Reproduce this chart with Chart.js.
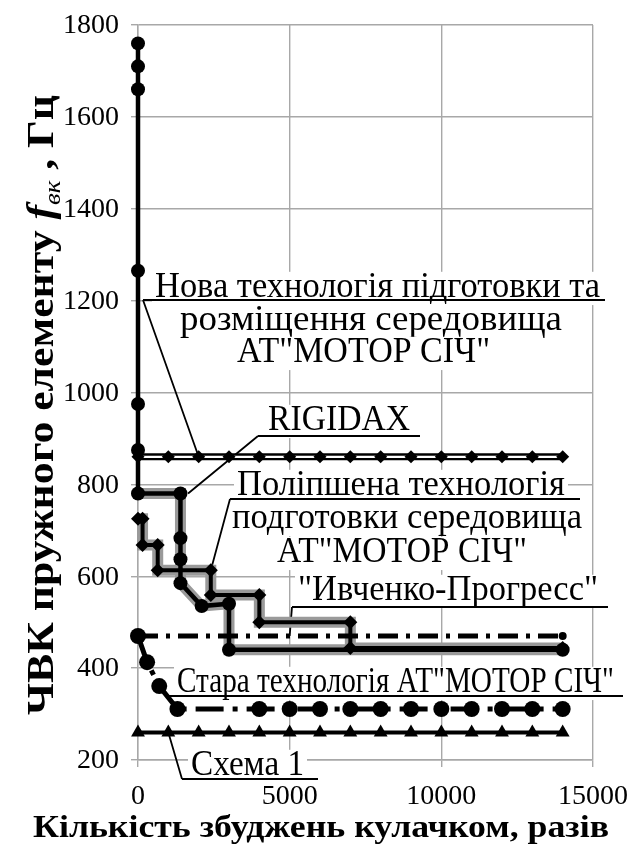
<!DOCTYPE html>
<html><head><meta charset="utf-8">
<script src="https://cdn.jsdelivr.net/npm/chart.js@4/dist/chart.umd.min.js"></script>
<style>html,body{margin:0;padding:0;background:#fff;overflow:hidden}</style>
</head><body>
<canvas id="c" width="633" height="845" style="display:block;width:633px;height:845px"></canvas>
<script>
// ---------------- data ----------------
const X_TICKS = [0, 5000, 10000, 15000];
const Y_TICKS = [200, 400, 600, 800, 1000, 1200, 1400, 1600, 1800];

const RIGIDAX_X = [0, 0, 0, 0, 0, 0, 0, 1400, 1400, 1400, 1400, 2100, 3000, 3000, 14000];
const RIGIDAX_Y = [1760, 1710, 1660, 1265, 975, 875, 780, 780, 683, 637, 585, 535, 540, 440, 440];

const NEW_TECH_X = [0, 1000, 2000, 3000, 4000, 5000, 6000, 7000, 8000, 9000, 10000, 11000, 12000, 13000, 14000];
const NEW_TECH_Y = [860, 860, 860, 860, 860, 860, 860, 860, 860, 860, 860, 860, 860, 860, 860];

const IMPROVED_X = [0, 150, 150, 650, 650, 2400, 2400, 4000, 4000, 7000, 7000, 14000];
const IMPROVED_Y = [725, 725, 668, 668, 613, 613, 559, 559, 500, 500, 444, 444];

const IVCHENKO_X = [0, 14000];
const IVCHENKO_Y = [470, 470];

const OLD_TECH_X = [0, 300, 700, 1300, 4000, 5000, 6000, 7000, 8000, 9000, 10000, 11000, 12000, 13000, 14000];
const OLD_TECH_Y = [470, 413, 361, 311, 311, 311, 311, 311, 311, 311, 311, 311, 311, 311, 311];

const SCHEME1_X = [0, 1000, 2000, 3000, 4000, 5000, 6000, 7000, 8000, 9000, 10000, 11000, 12000, 13000, 14000];
const SCHEME1_Y = [260, 260, 260, 260, 260, 260, 260, 260, 260, 260, 260, 260, 260, 260, 260];

const X_TITLE = 'Кількість збуджень кулачком, разів';
const Y_TITLE_PARTS = ['ЧВК пружного елементу ', 'f', 'вк', ' , Гц'];

// ---------------- helpers ----------------
const pts = (xs, ys) => xs.map((x, i) => ({x: x, y: ys[i]}));
const SERIF = '"Liberation Serif", "Times New Roman", serif';
const GRID = '#a8a8a8';

function fitText(ctx, text, x0, x1, base, font, box) {
  ctx.font = font;
  const w = ctx.measureText(text).width;
  const s = (x1 - x0) / w;
  const size = parseFloat(font.match(/(\d+(\.\d+)?)px/)[1]);
  if (box) {
    ctx.fillStyle = '#fff';
    ctx.fillRect(x0 - 3, base - size * 0.72, x1 - x0 + 6, size * 0.95);
  }
  ctx.save();
  ctx.translate(x0, base);
  ctx.scale(s, 1);
  ctx.fillStyle = '#000';
  ctx.textAlign = 'left';
  ctx.textBaseline = 'alphabetic';
  ctx.fillText(text, 0, 0);
  ctx.restore();
}

const LABEL_FONT = '35px ' + SERIF;
const LABELS = [
  {lines: [['Нова технологія підготовки та', 155, 600, 297],
           ['розміщення середовища', 180, 562, 330],
           ['АТ"МОТОР СІЧ"', 237, 490, 362]],
   under: [143, 605, 300], leader: [143, 300, 2000, 860]},
  {lines: [['RIGIDAX', 268, 410, 430]],
   under: [258, 420, 436], leader: [258, 436, 1650, 780]},
  {lines: [['Поліпшена технологія', 237, 565, 495],
           ['подготовки середовища', 232, 582, 528],
           ['АТ"МОТОР СІЧ"', 277, 527, 562]],
   under: [230, 580, 499], leader: [230, 499, 2400, 613]},
  {lines: [['"Ивченко-Прогресс"', 298, 598, 600]],
   under: [292, 608, 607], leader: [292, 607, 5000, 470]},
  {lines: [['Стара технологія АТ"МОТОР СІЧ"', 177, 614, 692]],
   under: [168, 623, 696], leader: [168, 696, 850, 348]},
  {lines: [['Схема 1', 191, 304, 775]],
   under: [182, 318, 779], leader: [182, 779, 1000, 260]}
];

const annotate = {
  id: 'annotate',
  beforeDatasetsDraw(chart) {
    const ctx = chart.ctx, xs = chart.scales.x, ys = chart.scales.y;
    ctx.save();
    LABELS.forEach(L => {
      L.lines.forEach(l => fitText(ctx, l[0], l[1], l[2], l[3], LABEL_FONT, true));
      ctx.strokeStyle = '#000';
      ctx.lineWidth = 1.8;
      ctx.beginPath();
      ctx.moveTo(L.under[0], L.under[2]);
      ctx.lineTo(L.under[1], L.under[2]);
      ctx.moveTo(L.leader[0], L.leader[1]);
      ctx.lineTo(xs.getPixelForValue(L.leader[2]), ys.getPixelForValue(L.leader[3]));
      ctx.stroke();
    });
    ctx.restore();
  },
  afterDraw(chart) {
    const ctx = chart.ctx, xs = chart.scales.x, ys = chart.scales.y;
    ctx.save();
    ctx.fillStyle = '#000';
    ctx.font = '28px ' + SERIF;
    // y tick labels
    ctx.textAlign = 'right';
    ctx.textBaseline = 'middle';
    ys.ticks.forEach(t => ctx.fillText(String(t.value), 119, ys.getPixelForValue(t.value) + 1));
    // x tick labels
    ctx.textAlign = 'center';
    ctx.textBaseline = 'alphabetic';
    xs.ticks.forEach(t => ctx.fillText(String(t.value), xs.getPixelForValue(t.value), 804));
    // x title
    fitText(ctx, X_TITLE, 33, 609, 837, 'bold 31px ' + SERIF, false);
    // y title (rotated)
    const fonts = ['bold 34px ' + SERIF, 'bold italic 34px ' + SERIF, 'italic 21px ' + SERIF, 'bold 34px ' + SERIF];
    const dys = [0, 0, 6, 0];
    let total = 0;
    const ws = Y_TITLE_PARTS.map((p, i) => { ctx.font = fonts[i]; const w = ctx.measureText(p).width; total += w; return w; });
    const yBottom = 715, yTop = 95;
    const s = (yBottom - yTop) / total;
    ctx.translate(53, yBottom);
    ctx.rotate(-Math.PI / 2);
    ctx.scale(s, 1.12);
    ctx.textAlign = 'left';
    let xx = 0;
    Y_TITLE_PARTS.forEach((p, i) => { ctx.font = fonts[i]; ctx.fillText(p, xx, dys[i]); xx += ws[i]; });
    ctx.restore();
  }
};

const HALO = '#9a9a9a';

const config = {
  type: 'line',
  data: {
    datasets: [
      // Нова технологія – double line with diamonds on top
      {data: pts(NEW_TECH_X, NEW_TECH_Y), showLine: false, pointStyle: 'rectRot',
       pointRadius: 6.5, pointBackgroundColor: '#000', pointBorderColor: '#000', pointBorderWidth: 0, order: 1},
      {data: pts(NEW_TECH_X, NEW_TECH_Y), borderColor: '#fff', borderWidth: 2.2, pointRadius: 0, order: 10},
      {data: pts(NEW_TECH_X, NEW_TECH_Y), borderColor: '#000', borderWidth: 7, pointRadius: 0, order: 11},
      // RIGIDAX
      {data: pts(RIGIDAX_X, RIGIDAX_Y), borderColor: '#000', borderWidth: 4.5, pointStyle: 'circle',
       pointRadius: 7, pointBackgroundColor: '#000', pointBorderColor: '#000', pointBorderWidth: 0, order: 3},
      {data: pts(RIGIDAX_X, RIGIDAX_Y), borderColor: HALO, borderWidth: 11, pointRadius: 0, order: 12,
       segment: {borderColor: c => (c.p0.parsed.y > 790 ? 'rgba(0,0,0,0)' : HALO)}},
      // Поліпшена технологія
      {data: pts(IMPROVED_X, IMPROVED_Y), borderColor: '#000', borderWidth: 4, pointStyle: 'rectRot',
       pointRadius: 7, pointBackgroundColor: '#000', pointBorderColor: '#000', pointBorderWidth: 0, order: 4},
      {data: pts(IMPROVED_X, IMPROVED_Y), borderColor: HALO, borderWidth: 11, pointRadius: 0, order: 13},
      // Ивченко-Прогресс
      {data: pts(IVCHENKO_X, IVCHENKO_Y), borderColor: '#000', borderWidth: 5, borderDash: [20, 8, 4, 8],
       pointRadius: [0, 4], pointBackgroundColor: '#000', pointBorderWidth: 0, order: 6},
      // Стара технологія
      {data: pts(OLD_TECH_X, OLD_TECH_Y), borderColor: '#000', borderWidth: 5, borderDash: [28, 9, 5, 9],
       pointStyle: 'circle', pointRadius: 8, pointBackgroundColor: '#000', pointBorderWidth: 0, order: 5},
      // Схема 1
      {data: pts(SCHEME1_X, SCHEME1_Y), borderColor: '#000', borderWidth: 4, pointStyle: 'triangle',
       pointRadius: 8, pointBackgroundColor: '#000', pointBorderColor: '#000', pointBorderWidth: 0, order: 7}
    ]
  },
  options: {
    responsive: false,
    animation: false,
    devicePixelRatio: 1,
    clip: false,
    layout: {padding: {top: 25, right: 40, left: 0, bottom: 0}},
    plugins: {legend: {display: false}, tooltip: {enabled: false}},
    elements: {line: {tension: 0, borderCapStyle: 'butt', fill: false}},
    scales: {
      x: {
        type: 'linear', min: 0, max: 15000,
        afterBuildTicks: s => { s.ticks = X_TICKS.map(v => ({value: v})); },
        ticks: {display: false},
        grid: {color: GRID, lineWidth: 1.4, tickLength: 7, drawTicks: true},
        border: {color: GRID, width: 1.4},
        afterFit: s => { s.height = 85; }
      },
      y: {
        type: 'linear', min: 200, max: 1800,
        afterBuildTicks: s => { s.ticks = Y_TICKS.map(v => ({value: v})); },
        ticks: {display: false},
        grid: {color: GRID, lineWidth: 1.4, tickLength: 7, drawTicks: true},
        border: {color: GRID, width: 1.4},
        afterFit: s => { s.width = 138; }
      }
    }
  },
  plugins: [annotate]
};

new Chart(document.getElementById('c'), config);
</script>
</body></html>
